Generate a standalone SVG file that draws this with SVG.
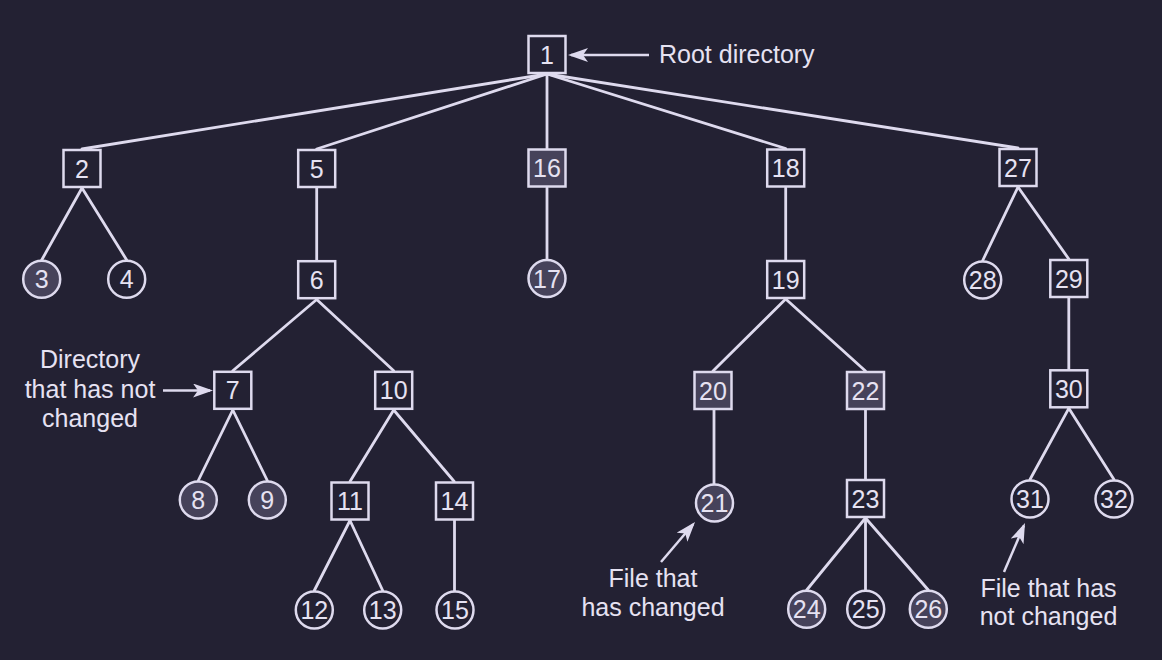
<svg xmlns="http://www.w3.org/2000/svg" width="1162" height="660" viewBox="0 0 1162 660">
<style>
.bg{fill:#232133}
.n rect,.n circle{fill:none;stroke:#dedaee;stroke-width:2.5}
.n.s rect,.n.s circle{fill:#46425a}
.n text{fill:#e6e2f2;font-family:"Liberation Sans",Arial,sans-serif;font-size:25px;text-anchor:middle}
#edges line{stroke:#dedaee;stroke-width:2.8;stroke-linecap:round}
.lbl{fill:#e6e2f2;font-family:"Liberation Sans",Arial,sans-serif;font-size:25px}
.arr{stroke:#dedaee;stroke-width:2.5;fill:none;marker-end:url(#ah)}
</style>
<defs>
<marker id="ah" markerUnits="userSpaceOnUse" markerWidth="22" markerHeight="14" refX="17" refY="7" orient="auto">
<path d="M0,0 L20,7 L0,14 L5,7 Z" fill="#dedaee"/>
</marker>
</defs>
<rect class="bg" x="0" y="0" width="1162" height="660"/>
<g id="edges">
<line x1="547" y1="74" x2="82" y2="149"/>
<line x1="547" y1="74" x2="316.7" y2="149"/>
<line x1="547" y1="74" x2="547" y2="148.5"/>
<line x1="547" y1="74" x2="785.7" y2="148.5"/>
<line x1="547" y1="74" x2="1018" y2="148"/>
<line x1="82" y1="188" x2="41.7" y2="260"/>
<line x1="82" y1="188" x2="126.7" y2="260"/>
<line x1="316.7" y1="188" x2="316.7" y2="260"/>
<line x1="547" y1="188" x2="547" y2="259"/>
<line x1="785.7" y1="188" x2="785.7" y2="260"/>
<line x1="1018" y1="187" x2="982.7" y2="260.5"/>
<line x1="1018" y1="187" x2="1068.8" y2="259"/>
<line x1="316.7" y1="299.5" x2="232.8" y2="370.8"/>
<line x1="316.7" y1="299.5" x2="393.7" y2="370.8"/>
<line x1="785.7" y1="299" x2="713" y2="371"/>
<line x1="785.7" y1="299" x2="865.5" y2="371"/>
<line x1="1068.8" y1="298" x2="1068.8" y2="369.3"/>
<line x1="232.8" y1="410" x2="198.3" y2="480.5"/>
<line x1="232.8" y1="410" x2="267.3" y2="480.5"/>
<line x1="393.7" y1="410" x2="350" y2="481.5"/>
<line x1="393.7" y1="410" x2="454.2" y2="481.5"/>
<line x1="714" y1="410" x2="714" y2="483.5"/>
<line x1="865.5" y1="410" x2="865.5" y2="479"/>
<line x1="1068.8" y1="408.3" x2="1030" y2="479.5"/>
<line x1="1068.8" y1="408.3" x2="1114" y2="479.5"/>
<line x1="350" y1="520.5" x2="314.3" y2="590.5"/>
<line x1="350" y1="520.5" x2="382.7" y2="590.5"/>
<line x1="454.5" y1="520.5" x2="454.5" y2="590.5"/>
<line x1="865.5" y1="518" x2="806.7" y2="590"/>
<line x1="865.5" y1="518" x2="865.5" y2="590"/>
<line x1="865.5" y1="518" x2="928.3" y2="590"/>
</g>
<g id="n1" class="n"><rect x="528.5" y="36" width="37" height="37"/><text x="547" y="63.5">1</text></g>
<g id="n2" class="n"><rect x="63.5" y="150" width="37" height="37"/><text x="82" y="177.5">2</text></g>
<g id="n5" class="n"><rect x="298.2" y="150" width="37" height="37"/><text x="316.7" y="177.5">5</text></g>
<g id="n16" class="n s"><rect x="528.5" y="149.5" width="37" height="37"/><text x="547" y="177">16</text></g>
<g id="n18" class="n"><rect x="767.2" y="149.5" width="37" height="37"/><text x="785.7" y="177">18</text></g>
<g id="n27" class="n"><rect x="999.5" y="149" width="37" height="37"/><text x="1018" y="176.5">27</text></g>
<g id="n3" class="n s"><circle cx="41.7" cy="279.3" r="18.5"/><text x="41.7" y="288.3">3</text></g>
<g id="n4" class="n"><circle cx="126.7" cy="279.3" r="18.5"/><text x="126.7" y="288.3">4</text></g>
<g id="n6" class="n"><rect x="298.2" y="261.2" width="37" height="37"/><text x="316.7" y="288.7">6</text></g>
<g id="n17" class="n s"><circle cx="547" cy="278.5" r="18.5"/><text x="547" y="287.5">17</text></g>
<g id="n19" class="n"><rect x="767.2" y="261" width="37" height="37"/><text x="785.7" y="288.5">19</text></g>
<g id="n28" class="n"><circle cx="982.7" cy="280" r="18.5"/><text x="982.7" y="289">28</text></g>
<g id="n29" class="n"><rect x="1050.3" y="260" width="37" height="37"/><text x="1068.8" y="287.5">29</text></g>
<g id="n7" class="n"><rect x="214.3" y="371.8" width="37" height="37"/><text x="232.8" y="399.3">7</text></g>
<g id="n10" class="n"><rect x="375.2" y="371.8" width="37" height="37"/><text x="393.7" y="399.3">10</text></g>
<g id="n20" class="n s"><rect x="694.5" y="372" width="37" height="37"/><text x="713" y="399.5">20</text></g>
<g id="n22" class="n s"><rect x="847" y="372" width="37" height="37"/><text x="865.5" y="399.5">22</text></g>
<g id="n30" class="n"><rect x="1050.3" y="370.3" width="37" height="37"/><text x="1068.8" y="397.8">30</text></g>
<g id="n8" class="n s"><circle cx="198.3" cy="500" r="18.5"/><text x="198.3" y="509">8</text></g>
<g id="n9" class="n s"><circle cx="267.3" cy="500" r="18.5"/><text x="267.3" y="509">9</text></g>
<g id="n11" class="n"><rect x="331.5" y="482.5" width="37" height="37"/><text x="350" y="510">11</text></g>
<g id="n14" class="n"><rect x="436" y="482.5" width="37" height="37"/><text x="454.5" y="510">14</text></g>
<g id="n21" class="n s"><circle cx="714.5" cy="503" r="18.5"/><text x="714.5" y="512">21</text></g>
<g id="n23" class="n"><rect x="847" y="480" width="37" height="37"/><text x="865.5" y="507.5">23</text></g>
<g id="n31" class="n"><circle cx="1030" cy="499" r="18.5"/><text x="1030" y="508">31</text></g>
<g id="n32" class="n"><circle cx="1114" cy="499" r="18.5"/><text x="1114" y="508">32</text></g>
<g id="n12" class="n"><circle cx="314.3" cy="610" r="18.5"/><text x="314.3" y="619">12</text></g>
<g id="n13" class="n"><circle cx="382.7" cy="610" r="18.5"/><text x="382.7" y="619">13</text></g>
<g id="n15" class="n"><circle cx="455" cy="610" r="18.5"/><text x="455" y="619">15</text></g>
<g id="n24" class="n s"><circle cx="806.7" cy="609.3" r="18.5"/><text x="806.7" y="618.3">24</text></g>
<g id="n25" class="n"><circle cx="865.7" cy="609.3" r="18.5"/><text x="865.7" y="618.3">25</text></g>
<g id="n26" class="n s"><circle cx="928.3" cy="609.3" r="18.5"/><text x="928.3" y="618.3">26</text></g>
<g id="annotations">
<line class="arr" x1="649" y1="55" x2="571" y2="55"/>
<text class="lbl" x="659" y="63">Root directory</text>
<line class="arr" x1="163" y1="390.5" x2="210" y2="390.5"/>
<text class="lbl" text-anchor="middle" x="90" y="368">Directory</text>
<text class="lbl" text-anchor="middle" x="90" y="398">that has not</text>
<text class="lbl" text-anchor="middle" x="90" y="427">changed</text>
<line class="arr" x1="661" y1="562" x2="693.1" y2="524.3"/>
<text class="lbl" text-anchor="middle" x="653" y="587">File that</text>
<text class="lbl" text-anchor="middle" x="653" y="616">has changed</text>
<line class="arr" x1="1004" y1="572" x2="1023.8" y2="525.8"/>
<text class="lbl" text-anchor="middle" x="1048.5" y="596.5">File that has</text>
<text class="lbl" text-anchor="middle" x="1048.5" y="625">not changed</text>
</g>
</svg>
